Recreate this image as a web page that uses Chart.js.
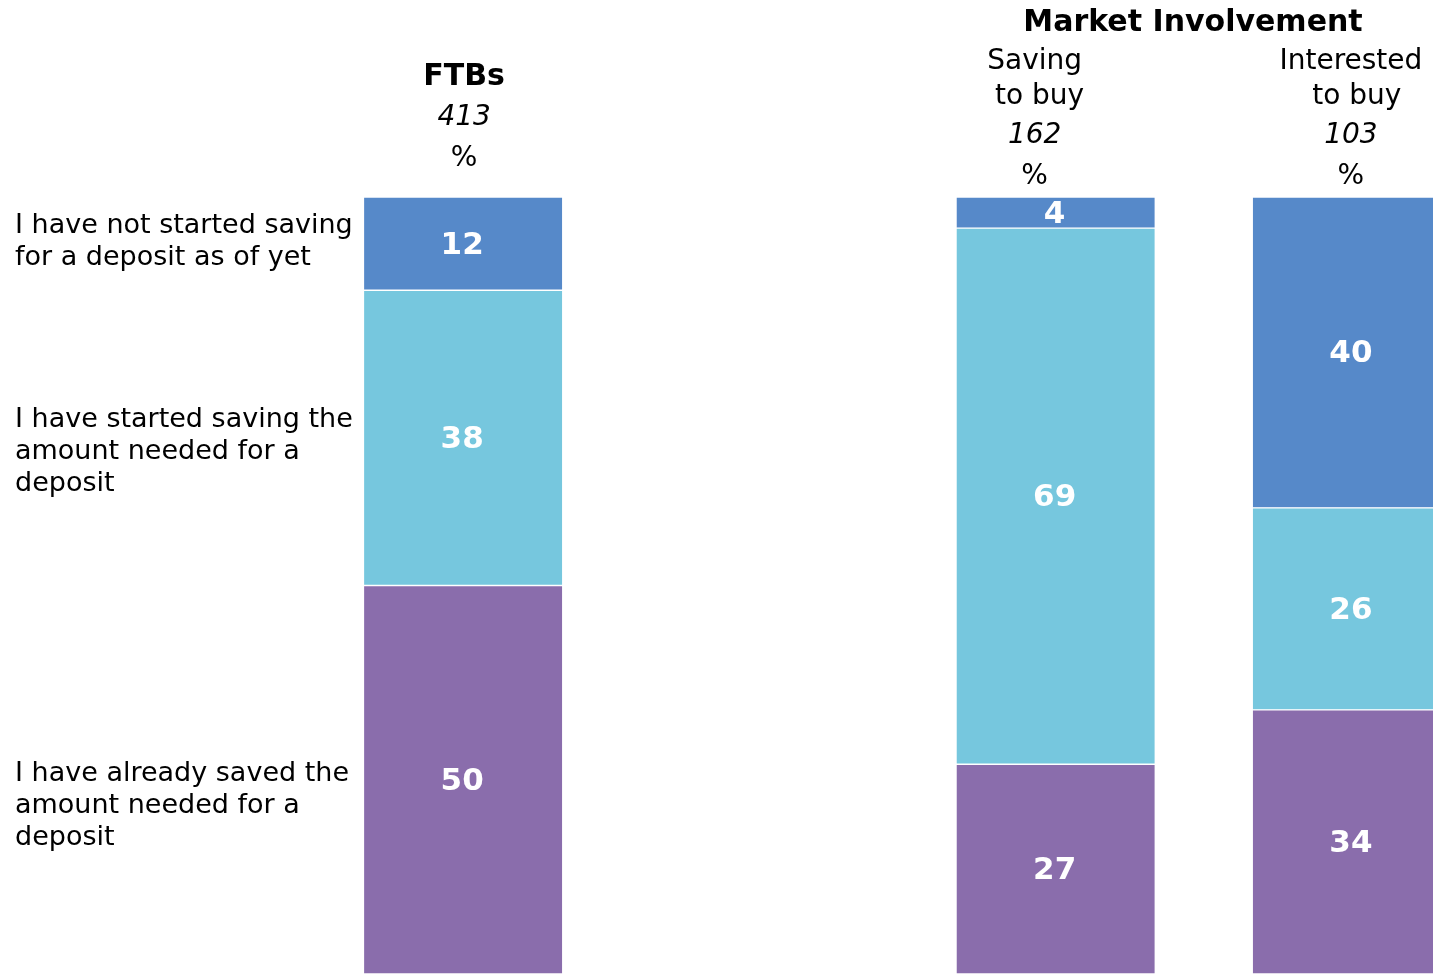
<!DOCTYPE html>
<html>
<head>
<meta charset="utf-8">
<script src="https://cdn.jsdelivr.net/npm/chart.js@4/dist/chart.umd.min.js"></script>
<style>
html,body{margin:0;padding:0;background:#fff;overflow:hidden;width:1433px;height:974px;}
canvas{display:block;}
</style>
</head>
<body>
<canvas id="c" width="1500" height="974"></canvas>
<script>
const categories = ['FTBs', '', 'Saving to buy', 'Interested to buy'];
const notStarted = [12, null, 4, 40];
const started = [38, null, 69, 26];
const saved = [50, null, 27, 34];
const bases = ['413', '', '162', '103'];
const seriesNames = [
  ['I have already saved the', 'amount needed for a', 'deposit'],
  ['I have started saving the', 'amount needed for a', 'deposit'],
  ['I have not started saving', 'for a deposit as of yet']
];
const colors = ['#8A6DAC', '#76C7DE', '#5689C9'];

const FONT = '"DejaVu Sans", Verdana, sans-serif';

const textPlugin = {
  id: 'textPlugin',
  afterDatasetsDraw(chart) {
    const ctx = chart.ctx;
    ctx.save();
    // value labels
    ctx.fillStyle = '#ffffff';
    ctx.font = 'bold 31px ' + FONT;
    ctx.textAlign = 'center';
    ctx.textBaseline = 'middle';
    chart.data.datasets.forEach((ds, di) => {
      const meta = chart.getDatasetMeta(di);
      meta.data.forEach((el, i) => {
        const v = ds.data[i];
        if (v == null) return;
        ctx.fillText(String(v), el.x - 1, (el.y + el.base) / 2 + 2);
      });
    });
    // headers
    ctx.fillStyle = '#000000';
    const xs = chart.scales.x;
    const c0 = xs.getPixelForValue(0);
    const c2 = xs.getPixelForValue(2);
    const c3 = xs.getPixelForValue(3);
    ctx.font = 'bold 30px ' + FONT;
    ctx.fillText('FTBs', c0 + 1, 77);
    ctx.fillText('Market Involvement', 1193, 23);
    ctx.font = '28px ' + FONT;
    ctx.fillText('Saving', c2 - 21, 62);
    ctx.fillText('to buy', c2 - 16, 97);
    ctx.fillText('Interested', c3 - 1, 62);
    ctx.fillText('to buy', c3 + 5, 97);
    ctx.fillText('%', c0 + 1, 159);
    ctx.fillText('%', c2 - 21, 177);
    ctx.fillText('%', c3 - 1, 177);
    ctx.font = 'italic 28px ' + FONT;
    ctx.fillText(bases[0], c0 + 1, 118);
    ctx.fillText(bases[2], c2 - 21, 136);
    ctx.fillText(bases[3], c3 - 1, 136);
    // left series labels
    ctx.font = '27px ' + FONT;
    ctx.textAlign = 'left';
    const starts = [774, 420, 226];
    seriesNames.forEach((lines, k) => {
      lines.forEach((ln, j) => ctx.fillText(ln, 15, starts[k] + j * 32));
    });
    ctx.restore();
  }
};

new Chart(document.getElementById('c'), {
  type: 'bar',
  data: {
    labels: categories,
    datasets: [
      { label: seriesNames[0].join(' '), data: saved, backgroundColor: colors[0] },
      { label: seriesNames[1].join(' '), data: started, backgroundColor: colors[1] },
      { label: seriesNames[2].join(' '), data: notStarted, backgroundColor: colors[2] }
    ].map(d => Object.assign(d, {
      borderColor: '#ffffff',
      borderWidth: { top: 1, bottom: 1, left: 0, right: 0 },
      borderSkipped: false,
      barThickness: 198
    }))
  },
  options: {
    responsive: false,
    devicePixelRatio: 1,
    animation: false,
    layout: { padding: { left: 315, right: 0, top: 197, bottom: 0 } },
    plugins: { legend: { display: false }, tooltip: { enabled: false } },
    scales: {
      x: { stacked: true, display: false },
      y: { stacked: true, display: false, min: 0, max: 100 }
    }
  },
  plugins: [textPlugin]
});
</script>
</body>
</html>
